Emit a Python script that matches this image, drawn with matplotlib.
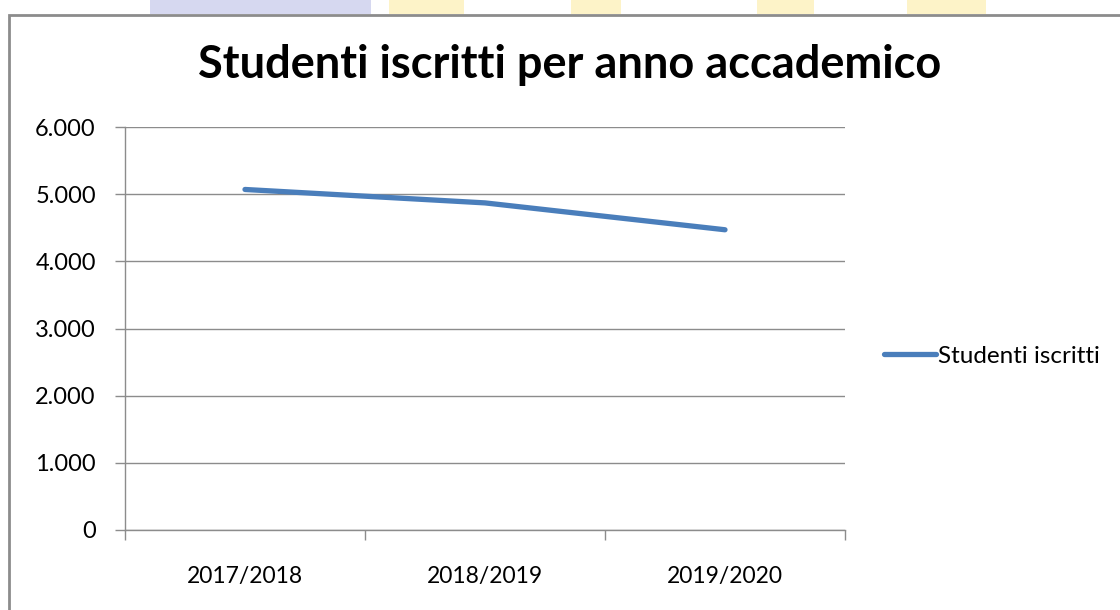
import matplotlib
matplotlib.use("Agg")
import matplotlib.pyplot as plt
from matplotlib.patches import Rectangle
from matplotlib.ticker import FuncFormatter

categories = ["2017/2018", "2018/2019", "2019/2020"]
studenti = [5070, 4870, 4470]
series_name = "Studenti iscritti"
title = "Studenti iscritti per anno accademico"

plt.rcParams['font.family'] = ['Lato', 'DejaVu Sans']

W, H = 1120, 610
fig = plt.figure(figsize=(W / 100, H / 100), dpi=100)

# faint background watermark strip above the chart frame
fig.patches.append(Rectangle((150 / W, 1 - 14 / H), 221 / W, 14 / H, transform=fig.transFigure,
                             facecolor="#d6d8f0", edgecolor="none", zorder=0))
for x0, w in [(389, 75), (571, 50), (757, 57), (907, 79)]:
    fig.patches.append(Rectangle((x0 / W, 1 - 14 / H), w / W, 14 / H, transform=fig.transFigure,
                                 facecolor="#fdf3c8", edgecolor="none", zorder=0))

# chart frame
fig.patches.append(Rectangle((9 / W, -0.05), 1.2, 1.05 - 15 / H, transform=fig.transFigure,
                             facecolor="white", edgecolor="#8c8c8c", linewidth=2.0, zorder=1))

ax = fig.add_axes([125 / W, 1 - 530 / H, 720 / W, 403 / H])
ax.set_zorder(2)
ax.set_facecolor("none")

x = list(range(len(categories)))
line, = ax.plot(x, studenti, color="#4A7EBB", linewidth=3.8, solid_capstyle="round",
                label=series_name, zorder=3)

ax.set_xlim(-0.5, len(categories) - 0.5)
ax.set_ylim(0, 6000)
ax.set_yticks(range(0, 6001, 1000))
ax.yaxis.set_major_formatter(FuncFormatter(lambda v, p: f"{int(v):,}".replace(",", ".")))
ax.set_xticks(x)
ax.set_xticklabels(categories)
ax.set_xticks([-0.5, 0.5, 1.5, 2.5], minor=True)
ax.tick_params(axis="x", which="major", length=0, pad=26, labelsize=16.5)
ax.tick_params(axis="x", which="minor", length=7, color="#8c8c8c", width=1, direction="out")
ax.tick_params(axis="y", length=7, color="#8c8c8c", width=1, pad=14, labelsize=17)

ax.grid(axis="y", color="#8c8c8c", linewidth=1)
ax.set_axisbelow(True)
for s in ["top", "right"]:
    ax.spines[s].set_visible(False)
for s in ["left", "bottom"]:
    ax.spines[s].set_color("#8c8c8c")
    ax.spines[s].set_linewidth(1)

fig.text(570 / W, 1 - 65 / H, title, ha="center", va="center", fontsize=32.5, fontweight="bold")

fig.legend(handles=[line], loc="center left", bbox_to_anchor=(874 / W, 1 - 356 / H),
           frameon=False, fontsize=17.5, handlelength=2.15, handletextpad=0.1, borderaxespad=0)

fig.savefig("out.png", dpi=100)
